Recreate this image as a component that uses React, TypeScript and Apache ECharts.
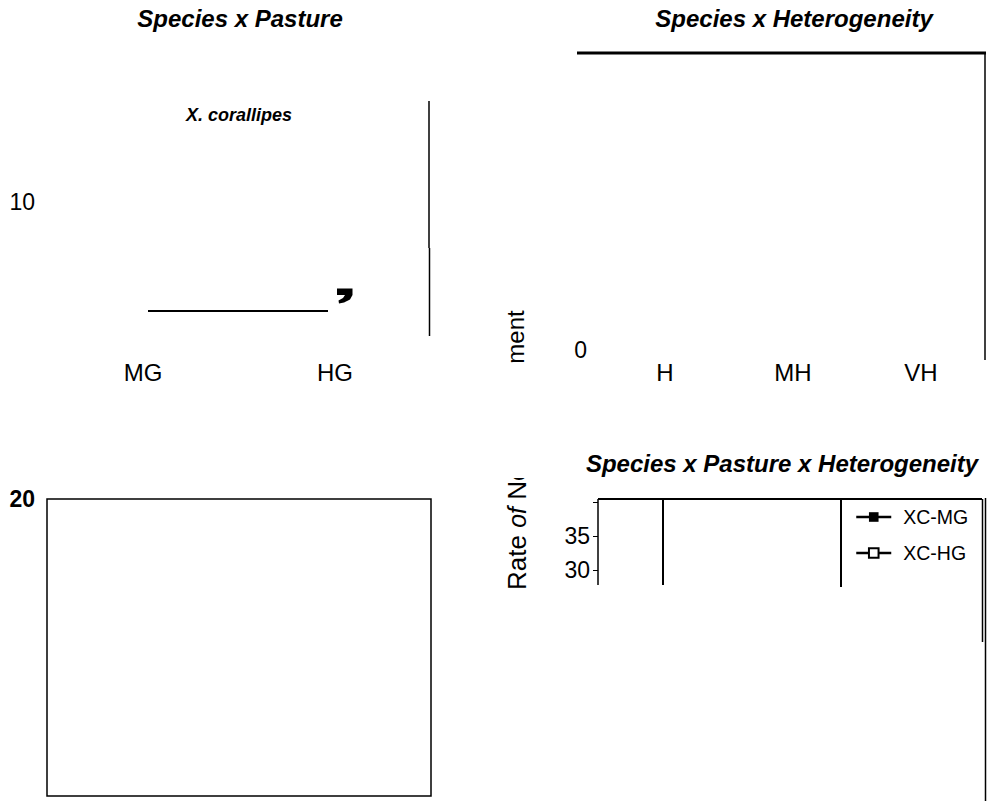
import React, { useEffect, useRef } from "react";
import * as echarts from "echarts";

const FONT = "'Liberation Sans', Arial, Helvetica, sans-serif";

// Category / tick data
const pastureCategories = ["MG", "HG"];
const heterogeneityCategories = ["H", "MH", "VH"];
const pastureYTicks = [10];
const heterogeneityYTicks = [0];
const lowerLeftYTicks = [20];
const tripleYTicks = [30, 35];
const legendNames = ["XC-MG", "XC-HG"];
// series values (no visible points in the reference)
const xcMG: number[] = [];
const xcHG: number[] = [];

const onlyTicks = (ticks: number[]) => (v: number) =>
  ticks.indexOf(Math.round(v * 100) / 100) >= 0 ? String(v) : "";

export default function App() {
  const ref = useRef<HTMLDivElement>(null);
  useEffect(() => {
    if (!ref.current) return;
    const chart = echarts.init(ref.current, undefined, { renderer: "svg" });
    const black = "#000";
    const line = (x1: number, y1: number, x2: number, y2: number, w: number) => ({
      type: "line",
      shape: { x1, y1, x2, y2 },
      style: { stroke: black, lineWidth: w },
      silent: true,
    });
    const txt = (
      x: number,
      y: number,
      text: string,
      size: number,
      weight: string,
      style: string,
      extra: any = {}
    ) => ({
      type: "text",
      x,
      y,
      silent: true,
      ...extra,
      style: {
        text,
        fill: black,
        font: `${style} ${weight} ${size}px ${FONT}`,
        align: "center",
        verticalAlign: "middle",
        ...(extra.style || {}),
      },
    });
    const hiddenCat = (gridIndex: number) => ({
      type: "category",
      gridIndex,
      show: false,
      data: ["a"],
    });
    const labelStyle = { color: black, fontFamily: FONT, fontSize: 24 };
    const option: any = {
      animation: false,
      backgroundColor: "#fff",
      grid: [
        { left: 47, top: 101, width: 384, height: 235 },
        { left: 601, top: 53, width: 384, height: 297 },
        {
          left: 47,
          top: 499,
          width: 384,
          height: 297,
          show: true,
          borderColor: black,
          borderWidth: 1.5,
          backgroundColor: "transparent",
        },
        { left: 598, top: 502.7, width: 384, height: 67.3 },
      ],
      xAxis: [
        {
          type: "category",
          gridIndex: 0,
          data: pastureCategories,
          axisLine: { show: false },
          axisTick: { show: false },
          axisLabel: { ...labelStyle, margin: 24 },
        },
        {
          type: "category",
          gridIndex: 1,
          data: heterogeneityCategories,
          axisLine: { show: false },
          axisTick: { show: false },
          axisLabel: { ...labelStyle, margin: 10 },
        },
        hiddenCat(2),
        hiddenCat(3),
      ],
      yAxis: [
        {
          type: "value",
          gridIndex: 0,
          min: 0,
          max: 17.5,
          interval: 10,
          axisLine: { show: false },
          axisTick: { show: false },
          splitLine: { show: false },
          axisLabel: { ...labelStyle, fontSize: 23, margin: 12, formatter: onlyTicks(pastureYTicks) },
        },
        {
          type: "value",
          gridIndex: 1,
          min: 0,
          max: 10,
          interval: 10,
          axisLine: { show: false },
          axisTick: { show: false },
          splitLine: { show: false },
          axisLabel: { ...labelStyle, fontSize: 23, margin: 14, formatter: onlyTicks(heterogeneityYTicks) },
        },
        {
          type: "value",
          gridIndex: 2,
          min: 0,
          max: 20,
          interval: 20,
          axisLine: { show: false },
          axisTick: { show: false },
          splitLine: { show: false },
          axisLabel: {
            ...labelStyle,
            fontSize: 23,
            fontWeight: "bold",
            margin: 12,
            formatter: onlyTicks(lowerLeftYTicks),
          },
        },
        {
          type: "value",
          gridIndex: 3,
          min: 30,
          max: 39.9,
          interval: 5,
          axisLine: { show: false },
          axisTick: { show: true, length: 5, lineStyle: { color: black, width: 1 } },
          splitLine: { show: false },
          axisLabel: { ...labelStyle, fontSize: 23, margin: 8, formatter: onlyTicks(tripleYTicks) },
        },
      ],
      legend: {
        orient: "vertical",
        left: 855,
        top: 507,
        padding: 0,
        itemWidth: 35,
        itemHeight: 12,
        itemGap: 16,
        data: legendNames,
        lineStyle: { width: 2.5, color: black },
        textStyle: { color: black, fontFamily: FONT, fontSize: 19.5, padding: [0, 0, 0, 7] },
      },
      series: [
        {
          name: legendNames[0],
          type: "line",
          xAxisIndex: 3,
          yAxisIndex: 3,
          data: xcMG,
          symbol: "rect",
          symbolSize: 10,
          itemStyle: { color: black, borderColor: black },
          lineStyle: { color: black, width: 2.5 },
        },
        {
          name: legendNames[1],
          type: "line",
          xAxisIndex: 3,
          yAxisIndex: 3,
          data: xcHG,
          symbol: "emptyRect",
          symbolSize: 10,
          itemStyle: { color: black, borderColor: black, borderWidth: 1.5 },
          lineStyle: { color: black, width: 2.5 },
        },
      ],
      graphic: [
        txt(240, 18, "Species x Pasture", 24, "bold", "italic"),
        txt(794, 18, "Species x Heterogeneity", 24, "bold", "italic"),
        txt(782, 463, "Species x Pasture x Heterogeneity", 24, "bold", "italic"),
        txt(239, 115, "X. corallipes", 18, "bold", "italic"),
        {
          type: "polygon",
          silent: true,
          shape: {
            points: [
              [337, 288.5],
              [352.5, 288.5],
              [352.5, 295],
              [350, 299.5],
              [344, 302.5],
              [339, 303.5],
              [338.5, 300.5],
              [343, 298],
              [345, 295],
              [337, 295],
            ],
          },
          style: { fill: black },
        },
        txt(515, 337, "ment", 24, "normal", "normal", { rotation: Math.PI / 2 }),
        {
          type: "text",
          x: 517,
          y: 590,
          rotation: Math.PI / 2,
          silent: true,
          style: {
            text: "{a|Rate }{b|of}{a| Ne}",
            align: "left",
            verticalAlign: "middle",
            rich: {
              a: { fontFamily: FONT, fontSize: 26, fill: black, color: black },
              b: { fontFamily: FONT, fontSize: 25, fontStyle: "italic", fill: black, color: black },
            },
          },
        },
        { type: "rect", shape: { x: 500, y: 430, width: 35, height: 48 }, style: { fill: "#fff" }, z: 100, silent: true },
        line(148, 311, 328, 311, 2),
        line(429, 101, 429, 248, 1.5),
        line(429.5, 248, 429.5, 336, 1.5),
        line(577, 53, 986, 53, 3),
        line(985, 53, 985, 360, 1.5),
        line(598, 499, 982, 499, 2),
        line(598, 499, 598, 585, 1.5),
        line(663, 499, 663, 585, 2),
        line(841, 499, 841, 587, 2),
        line(982.5, 499, 982.5, 642, 1.5),
        line(985.5, 498, 985.5, 801, 1.5),
      ],
    };
    chart.setOption(option);
    return () => chart.dispose();
  }, []);
  return (
    <div
      ref={ref}
      style={{ position: "fixed", left: 0, top: 0, width: 988, height: 801, background: "#fff" }}
    />
  );
}
